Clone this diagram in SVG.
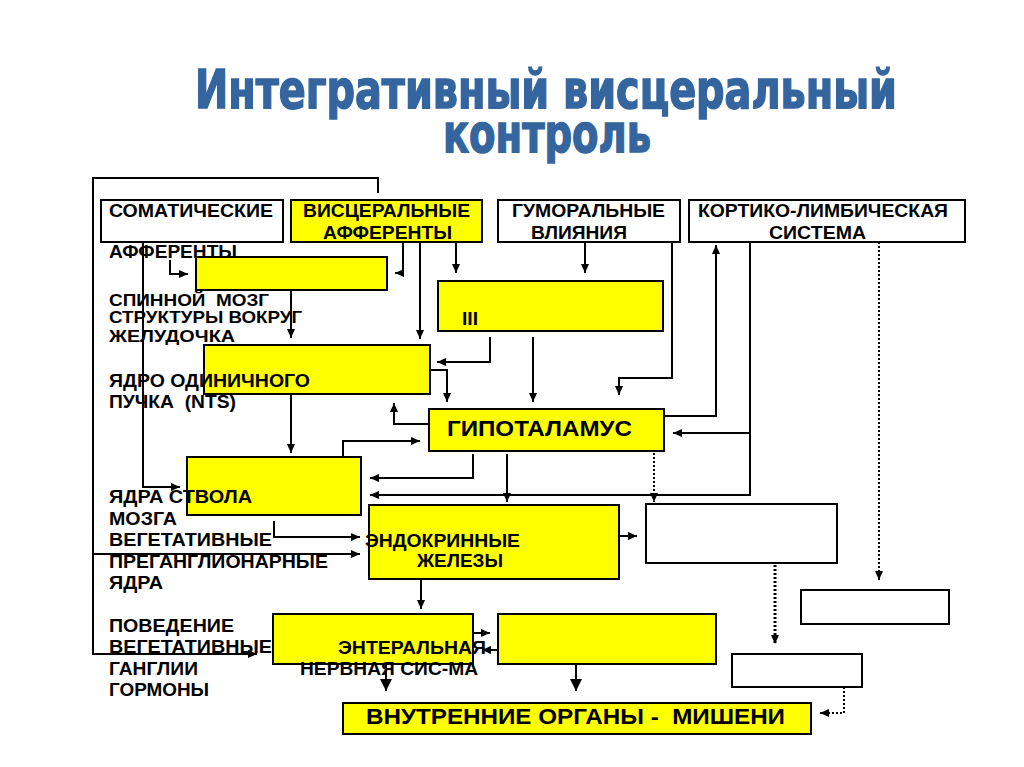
<svg xmlns="http://www.w3.org/2000/svg" width="1024" height="767" viewBox="0 0 1024 767">
<style>
.t{font-family:"Liberation Sans",Arial,sans-serif;font-weight:bold;font-size:18px;fill:#000;white-space:pre}
.s{font-size:17px}
.big{font-size:22px}
.ti{font-family:"Liberation Sans Narrow","DejaVu Sans Condensed","Liberation Sans",sans-serif;font-weight:bold;font-size:44px;fill:#34659F;stroke:#34659F;stroke-width:1.2}
.y{fill:#FFFF00;stroke:#000;stroke-width:2}
.w{fill:#FFFFFF;stroke:#000;stroke-width:2}
.c path{fill:none;stroke:#000;stroke-width:2}
.c .d{stroke-dasharray:2,2}
.c .dd{stroke-dasharray:2,2;stroke-width:3}
</style>
<defs>
<marker id="a" markerUnits="userSpaceOnUse" markerWidth="9" markerHeight="8" refX="9" refY="4" orient="auto"><path d="M0,0 L9,4 L0,8 z" fill="#000"/></marker>
<marker id="A" markerUnits="userSpaceOnUse" markerWidth="12" markerHeight="12" refX="12" refY="6" orient="auto"><path d="M0,0 L12,6 L0,12 z" fill="#000"/></marker>
</defs>
<rect width="1024" height="767" fill="#fff"/>
<g id="title">
<text class="ti" transform="translate(0,108) scale(1,1.2)" x="195" y="0" textLength="702" lengthAdjust="spacingAndGlyphs">Интегративный  висцеральный</text>
<text class="ti" transform="translate(0,152) scale(1,1.2)" x="443" y="0" textLength="208" lengthAdjust="spacingAndGlyphs">контроль</text>
</g>
<g id="somatic"><rect class="w" x="101" y="200" width="182" height="42"/><text class="t" x="109" y="217" textLength="164" lengthAdjust="spacingAndGlyphs">СОМАТИЧЕСКИЕ</text></g>
<g id="visceral"><rect class="y" x="291" y="200" width="191" height="42"/><text class="t" x="303" y="217" textLength="167" lengthAdjust="spacingAndGlyphs">ВИСЦЕРАЛЬНЫЕ</text><text class="t" x="323" y="239" textLength="129" lengthAdjust="spacingAndGlyphs">АФФЕРЕНТЫ</text></g>
<g id="humoral"><rect class="w" x="498" y="200" width="182" height="42"/><text class="t" x="512" y="217" textLength="153" lengthAdjust="spacingAndGlyphs">ГУМОРАЛЬНЫЕ</text><text class="t" x="531" y="239" textLength="96" lengthAdjust="spacingAndGlyphs">ВЛИЯНИЯ</text></g>
<g id="cortico"><rect class="w" x="689" y="200" width="276" height="42"/><text class="t" x="698" y="217" textLength="250" lengthAdjust="spacingAndGlyphs">КОРТИКО-ЛИМБИЧЕСКАЯ</text><text class="t" x="769" y="239" textLength="97" lengthAdjust="spacingAndGlyphs">СИСТЕМА</text></g>
<g id="spinal"><rect class="y" x="196" y="257" width="191" height="33"/></g>
<g id="ventricle"><rect class="y" x="438" y="281" width="225" height="50"/><text class="t" x="462" y="325" font-size="17" textLength="16" lengthAdjust="spacingAndGlyphs">III</text></g>
<g id="nts"><rect class="y" x="204" y="345" width="226" height="49"/></g>
<g id="hypothalamus"><rect class="y" x="429" y="409" width="235" height="42"/><text class="t big" x="447" y="436" textLength="185" lengthAdjust="spacingAndGlyphs">ГИПОТАЛАМУС</text></g>
<g id="brainstem"><rect class="y" x="187" y="457" width="174" height="58"/></g>
<g id="endocrine"><rect class="y" x="369" y="505" width="250" height="74"/><text class="t" x="365" y="547" textLength="155" lengthAdjust="spacingAndGlyphs">ЭНДОКРИННЫЕ</text><text class="t" x="417" y="567" textLength="86" lengthAdjust="spacingAndGlyphs">ЖЕЛЕЗЫ</text></g>
<g id="box-w1"><rect class="w" x="646" y="504" width="191" height="59"/></g>
<g id="box-w2"><rect class="w" x="801" y="590" width="148" height="34"/></g>
<g id="box-w3"><rect class="w" x="732" y="654" width="130" height="33"/></g>
<g id="enteral"><rect class="y" x="273" y="614" width="200" height="50"/><text class="t" x="338" y="654" textLength="148" lengthAdjust="spacingAndGlyphs">ЭНТЕРАЛЬНАЯ</text><text class="t" x="300" y="675" textLength="178" lengthAdjust="spacingAndGlyphs">НЕРВНАЯ СИС-МА</text></g>
<g id="box-y2"><rect class="y" x="498" y="614" width="218" height="50"/></g>
<g id="organs"><rect class="y" x="343" y="703" width="468" height="31"/><text class="t big" x="366" y="724" textLength="419" lengthAdjust="spacingAndGlyphs">ВНУТРЕННИЕ ОРГАНЫ -  МИШЕНИ</text></g>
<g id="labels">
<text class="t" x="109" y="258" textLength="128" lengthAdjust="spacingAndGlyphs">АФФЕРЕНТЫ</text>
<text class="t s" x="109" y="306" textLength="160" lengthAdjust="spacingAndGlyphs">СПИННОЙ  МОЗГ</text>
<text class="t s" x="109" y="323" textLength="193" lengthAdjust="spacingAndGlyphs">СТРУКТУРЫ ВОКРУГ</text>
<text class="t s" x="109" y="342" textLength="126" lengthAdjust="spacingAndGlyphs">ЖЕЛУДОЧКА</text>
<text class="t" x="109" y="387" textLength="201" lengthAdjust="spacingAndGlyphs">ЯДРО ОДИНИЧНОГО</text>
<text class="t" x="109" y="408" textLength="127" lengthAdjust="spacingAndGlyphs">ПУЧКА  (NTS)</text>
<text class="t" x="109" y="503" textLength="143" lengthAdjust="spacingAndGlyphs">ЯДРА СТВОЛА</text>
<text class="t" x="109" y="525" textLength="68" lengthAdjust="spacingAndGlyphs">МОЗГА</text>
<text class="t" x="109" y="546" textLength="163" lengthAdjust="spacingAndGlyphs">ВЕГЕТАТИВНЫЕ</text>
<text class="t" x="109" y="568" textLength="219" lengthAdjust="spacingAndGlyphs">ПРЕГАНГЛИОНАРНЫЕ</text>
<text class="t" x="109" y="589" textLength="54" lengthAdjust="spacingAndGlyphs">ЯДРА</text>
<text class="t" x="109" y="632" textLength="125" lengthAdjust="spacingAndGlyphs">ПОВЕДЕНИЕ</text>
<text class="t" x="109" y="653" textLength="163" lengthAdjust="spacingAndGlyphs">ВЕГЕТАТИВНЫЕ</text>
<text class="t" x="109" y="675" textLength="89" lengthAdjust="spacingAndGlyphs">ГАНГЛИИ</text>
<text class="t" x="109" y="696" textLength="100" lengthAdjust="spacingAndGlyphs">ГОРМОНЫ</text>
</g>
<g id="connectors" class="c">
<path d="M378,193 V178 H93 V654 H257" marker-end="url(#a)"/>
<path d="M93,554 H360" marker-end="url(#a)"/>
<path d="M143,242 V487 H180" marker-end="url(#a)"/>
<path d="M170,260 V274 H188" marker-end="url(#a)"/>
<path d="M403,242 V273 H395" marker-end="url(#a)"/>
<path d="M420,242 V339" marker-end="url(#a)"/>
<path d="M456,242 V273" marker-end="url(#a)"/>
<path d="M585,242 V273" marker-end="url(#a)"/>
<path d="M490,337 V362 H437" marker-end="url(#a)"/>
<path d="M533,337 V402" marker-end="url(#a)"/>
<path d="M430,370 H447 V402" marker-end="url(#a)"/>
<path d="M429,424 H394 V403" marker-end="url(#a)"/>
<path d="M343,457 V441 H420" marker-end="url(#a)"/>
<path d="M473,454 V478 H370" marker-end="url(#a)"/>
<path d="M507,454 V502" marker-end="url(#a)"/>
<path d="M750,242 V495 H370" marker-end="url(#a)"/>
<path d="M750,433 H673" marker-end="url(#a)"/>
<path d="M664,416 H716 V245" marker-end="url(#a)"/>
<path d="M672,242 V378 H619 V395" marker-end="url(#a)"/>
<path class="d" d="M654,453 V502" marker-end="url(#a)"/>
<path class="d" d="M879,242 V580" marker-end="url(#a)"/>
<path class="dd" d="M775,565 V644" marker-end="url(#a)"/>
<path class="d" d="M844,687 V713 H820" marker-end="url(#a)"/>
<path d="M619,536 H637" marker-end="url(#a)"/>
<path d="M421,579 V609" marker-end="url(#a)"/>
<path d="M473,633 H490" marker-end="url(#a)"/>
<path d="M498,650 H482" marker-end="url(#a)"/>
<path d="M386,664 V691" marker-end="url(#A)"/>
<path d="M576,664 V691" marker-end="url(#A)"/>
<path d="M274,521 V537 H360" marker-end="url(#a)"/>
<path d="M291,290 V338" marker-end="url(#a)"/>
<path d="M291,394 V453" marker-end="url(#a)"/>
</g>
</svg>
